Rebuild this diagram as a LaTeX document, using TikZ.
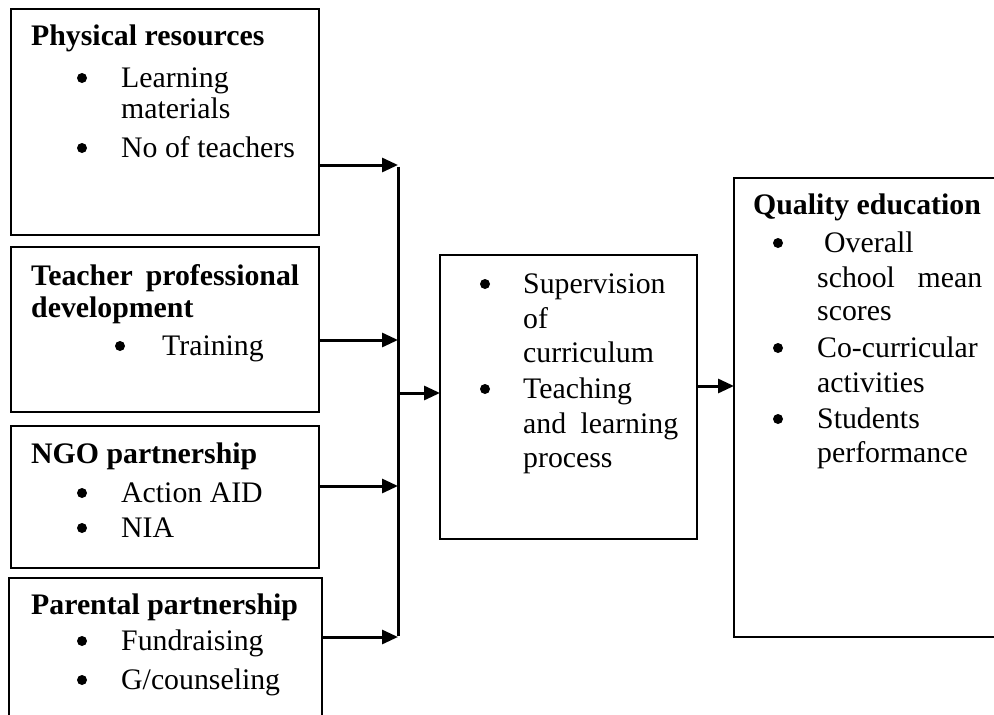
\documentclass[tikz,border=0pt]{standalone}
\usepackage{fontspec}
\setmainfont{Liberation Serif}
\usetikzlibrary{arrows.meta}
\begin{document}
\begin{tikzpicture}[x=1pt,y=-1pt,
  box/.style={draw,line width=1.8pt,rectangle,inner sep=0pt,outer sep=0pt,anchor=north west},
  txt/.style={anchor=base west,inner sep=0pt,font=\fontsize{29.8}{33}\selectfont},
  hd/.style={anchor=base west,inner sep=0pt,font=\fontsize{29.8}{33}\selectfont\bfseries},
  bul/.style={circle,fill,inner sep=0pt,minimum size=10pt},
  conn/.style={line width=3pt,-{Triangle[length=16pt,width=14pt]}},
  trunk/.style={line width=3pt}
]
\useasboundingbox (0,0) rectangle (994,715);

% boxes
\node[box,minimum width=308pt,minimum height=226pt] (b1) at (11,9) {};
\node[box,minimum width=308pt,minimum height=165pt] (b2) at (11,247) {};
\node[box,minimum width=308pt,minimum height=142pt] (b3) at (11,426) {};
\node[box,minimum width=313pt,minimum height=160pt] (b4) at (9,578) {};
\node[box,minimum width=257pt,minimum height=284pt] (mid) at (440,255) {};
\node[box,minimum width=290pt,minimum height=459pt] (qe) at (734,178) {};

% junction coordinates on the trunk
\coordinate (j1) at (398,165);
\coordinate (j2) at (398,340);
\coordinate (j3) at (398,486);
\coordinate (j4) at (398,637);
\coordinate (jm) at (398,393);
\coordinate (jq) at (697,386);

% connectors
\draw[trunk] ([yshift=-1.5pt]j1) -- ([yshift=1.5pt]j4);
\draw[conn] (b1.east |- j1) -- (j1);
\draw[conn] (b2.east |- j2) -- (j2);
\draw[conn] (b3.east |- j3) -- (j3);
\draw[conn] (b4.east |- j4) -- (j4);
\draw[conn] (jm) -- (mid.west |- jm);
\draw[conn] (mid.east |- jq) -- (qe.west |- jq);

% box 1
\node[hd] (h1) at (31,45) {Physical resources};
\node[bul] (p1a) at (82,78) {};
\node[txt] (t1a) at (121,87) {Learning};
\node[txt] (t1b) at (121,118) {materials};
\node[bul] (p1c) at (82,148) {};
\node[txt] (t1c) at (121,157) {No of teachers};

% box 2
\node[hd] (h2a) at (31,285) {\hbox to 268pt{Teacher\hfill professional}};
\node[hd] (h2b) at (31,317) {development};
\node[bul] (p2a) at (120,346) {};
\node[txt] (t2a) at (162,355) {Training};

% box 3
\node[hd] (h3) at (31,463) {NGO partnership};
\node[bul] (p3a) at (82,493) {};
\node[txt] (t3a) at (121,502) {Action AID};
\node[bul] (p3b) at (82,528) {};
\node[txt] (t3b) at (121,537) {NIA};

% box 4
\node[hd] (h4) at (31,614) {Parental partnership};
\node[bul] (p4a) at (82,641) {};
\node[txt] (t4a) at (121,650) {Fundraising};
\node[bul] (p4b) at (82,680) {};
\node[txt] (t4b) at (121,689) {G/counseling};

% middle box
\node[bul] (pma) at (485,284) {};
\node[txt] (tma) at (523,293) {Supervision};
\node[txt] (tmb) at (523,328) {of};
\node[txt] (tmc) at (523,362) {curriculum};
\node[bul] (pmd) at (485,389) {};
\node[txt] (tmd) at (523,398) {Teaching};
\node[txt] (tme) at (523,433) {\hbox to 155pt{and\hfill learning}};
\node[txt] (tmf) at (523,467) {process};

% right box
\node[hd] (hq) at (753,214) {Quality education};
\node[bul] (pqa) at (778,243) {};
\node[txt] (tqa) at (824,252) {Overall};
\node[txt] (tqb) at (817,287) {\hbox to 165pt{school\hfill mean}};
\node[txt] (tqc) at (817,320) {scores};
\node[bul] (pqd) at (778,348) {};
\node[txt] (tqd) at (817,357) {Co-curricular};
\node[txt] (tqe) at (817,392) {activities};
\node[bul] (pqf) at (778,419) {};
\node[txt] (tqf) at (817,428) {Students};
\node[txt] (tqg) at (817,462) {performance};
\end{tikzpicture}
\end{document}
